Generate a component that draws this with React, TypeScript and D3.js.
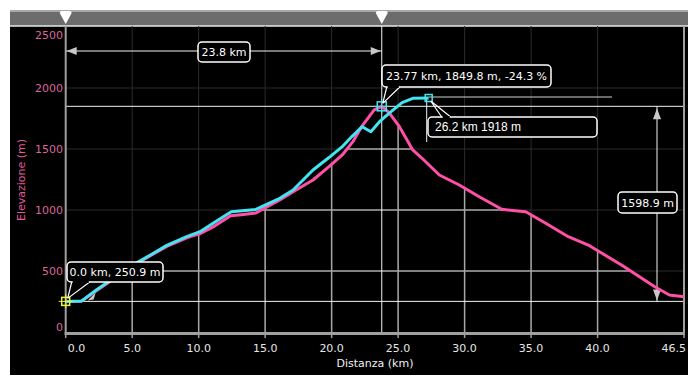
import * as d3 from 'd3';

// Main profile (pink): distance km / elevation m
const profileKm = [0, 1.2, 2.3, 3.6, 5.05, 6.6, 7.6, 9.1, 9.6, 10.1, 11.2, 12.4, 13.2, 14.3, 15.2, 16.1, 17.1, 18.6, 19.8, 20.8, 21.6, 22.3, 23.2, 23.77, 24.3, 25.1, 26.1, 26.8, 28.1, 29.6, 31.1, 32.8, 33.8, 34.6, 36.1, 37.8, 39.3, 41.8, 44.3, 45.4, 46.5];
const profileElev = [251, 253, 338, 434, 543, 640, 702, 772, 790, 805, 868, 952, 962, 975, 1030, 1082, 1150, 1246, 1355, 1451, 1560, 1690, 1820, 1850, 1800, 1683, 1492, 1424, 1287, 1205, 1109, 1006, 994, 986, 891, 781, 713, 549, 371, 303, 289];

// Compared track (cyan)
const trackKm = [0, 1.2, 2.3, 3.6, 5.05, 6.6, 7.6, 9.1, 10.1, 11.2, 12.45, 14.3, 15.2, 16.1, 17.1, 18.6, 19.8, 20.8, 21.5, 22.3, 22.95, 23.6, 24.4, 25.3, 26.1, 27.3];
const trackElev = [251, 255, 344, 440, 548, 646, 710, 781, 822, 900, 986, 1005, 1050, 1096, 1164, 1328, 1430, 1519, 1600, 1683, 1642, 1724, 1800, 1880, 1915, 1918];

const xTicks = [0, 5, 10, 15, 20, 25, 30, 35, 40, 46.5];
const yTicks = [0, 500, 1000, 1500, 2000, 2500];

const startPoint = { km: 0, elev: 250.9 };
const cursorPoint = { km: 23.77, elev: 1849.8, grade: -24.3 };
const trackEnd = { km: 27.3, elev: 1918, labelKm: 26.2 };
const spanKm = 23.8;

const FONT = 'DejaVu Sans, Verdana, sans-serif';
const PINK = '#ff4fa6';
const CYAN = '#45e4f2';

const W = 698;
const H = 385;

export default function App() {
  const x = d3.scaleLinear().domain([0, 46.5]).range([65.7, 684]);
  const y = d3.scaleLinear().domain([0, 2500]).range([332, 27]);
  const top = 26;

  const profile = profileKm.map((k, i) => [k, profileElev[i]] as [number, number]);
  const track = trackKm.map((k, i) => [k, trackElev[i]] as [number, number]);

  const line = d3.line<[number, number]>().x(d => x(d[0])).y(d => y(d[1]));
  const area = d3.area<[number, number]>().x(d => x(d[0])).y0(y(0)).y1(d => y(d[1]));

  const cx = x(cursorPoint.km);
  const cy = y(cursorPoint.elev);
  const sx = x(startPoint.km);
  const sy = y(startPoint.elev);
  const ex = x(trackEnd.km);
  const ey = y(trackEnd.elev);
  const arrowY = 51;
  const vx = 657;

  const gridX = xTicks.slice(1, -1);
  const gridY = yTicks.slice(1, -1);

  const box = (bx: number, by: number, bw: number, bh: number, text: string, opts: { font?: string; size?: number; anchor?: string } = {}) => (
    <g>
      <rect x={bx} y={by} width={bw} height={bh} rx={4} fill="#000" stroke="#fff" strokeWidth={1.5} />
      <text
        x={opts.anchor === 'start' ? bx + 7 : bx + bw / 2}
        y={by + bh / 2 + 4}
        textAnchor={opts.anchor === 'start' ? 'start' : 'middle'}
        fill="#fff"
        fontFamily={opts.font || FONT}
        fontSize={opts.size || 11}
      >
        {text}
      </text>
    </g>
  );

  const marker = (mx: number, my: number, color: string, s: number, cross: boolean) => (
    <g>
      <rect x={mx - s / 2} y={my - s / 2} width={s} height={s} fill="none" stroke={color} strokeWidth={1.5} />
      {cross && (
        <path d={`M${mx - s / 2 - 3},${my}H${mx + s / 2 + 3}M${mx},${my - s / 2 - 3}V${my + s / 2 + 3}`} stroke={color} strokeWidth={1} />
      )}
    </g>
  );

  return (
    <div style={{ position: 'fixed', left: 0, top: 0 }}>
      <svg width={W} height={H} style={{ display: 'block', background: '#fff' }}>
        <defs>
          <clipPath id="under">
            <path d={area(profile) || ''} />
          </clipPath>
        </defs>
        <rect x={10} y={10} width={678} height={365} fill="#000" />

        {/* top bar */}
        <rect x={10} y={10} width={678} height={16} fill="#6c6c6c" />
        <rect x={10} y={10} width={678} height={2} fill="#a8a8a8" />
        <line x1={10} x2={688} y1={top} y2={top} stroke="#e8e8e8" strokeWidth={1.5} />
        {[startPoint.km, cursorPoint.km].map(k => (
          <path key={k} d={`M${x(k) - 6},13Q${x(k) - 6},11 ${x(k) - 4},11H${x(k) + 4}Q${x(k) + 6},11 ${x(k) + 6},13L${x(k)},24Z`} fill="#fff" />
        ))}

        {/* dim grid */}
        <g stroke="#2b2b2b" strokeWidth={1}>
          {gridX.map(t => <line key={'dx' + t} x1={x(t)} x2={x(t)} y1={top} y2={y(0)} />)}
          {gridY.map(t => <line key={'dy' + t} x1={x(0)} x2={x(46.5)} y1={y(t)} y2={y(t)} />)}
        </g>
        {/* bright grid under profile */}
        <g stroke="#a6a6a6" strokeWidth={1.5} clipPath="url(#under)">
          {gridX.map(t => <line key={'bx' + t} x1={x(t)} x2={x(t)} y1={top} y2={y(0)} />)}
          {gridY.map(t => <line key={'by' + t} x1={x(0)} x2={x(46.5)} y1={y(t)} y2={y(t)} />)}
        </g>

        {/* reference lines */}
        <g stroke="#f2f2f2" strokeWidth={1}>
          <line x1={x(0)} x2={x(46.5)} y1={cy} y2={cy} />
          <line x1={x(0)} x2={x(46.5)} y1={sy} y2={sy} />
          <line x1={cx} x2={cx} y1={top} y2={y(0)} />
          <line x1={ex} x2={612} y1={ey - 1} y2={ey - 1} stroke="#cfcfcf" />
          <line x1={ex - 2} x2={ex - 2} y1={ey} y2={142} />
          <line x1={x(0)} x2={cx} y1={arrowY} y2={arrowY} />
          <line x1={vx} x2={vx} y1={cy} y2={sy} />
        </g>
        {/* arrow heads */}
        <g fill="#c8c8c8">
          <path d={`M${x(0) + 1},${arrowY}L${x(0) + 11},${arrowY - 4}L${x(0) + 11},${arrowY + 4}Z`} />
          <path d={`M${cx - 1},${arrowY}L${cx - 11},${arrowY - 4}L${cx - 11},${arrowY + 4}Z`} />
          <path d={`M${vx},${cy + 2}L${vx - 4},${cy + 13}L${vx + 4},${cy + 13}Z`} />
          <path d={`M${vx},${sy - 1}L${vx - 4},${sy - 12}L${vx + 4},${sy - 12}Z`} />
          <path d={`M${sx + 22},${sy - 1}L${sx + 30},${sy - 9}L${sx + 28},${sy - 2}Z`} />
        </g>

        {/* axes */}
        <line x1={x(0)} x2={x(0)} y1={top} y2={y(0) + 3} stroke="#a0a0a0" strokeWidth={2} />
        <line x1={x(46.5)} x2={x(46.5)} y1={top} y2={y(0) + 3} stroke="#a0a0a0" strokeWidth={2} />
        <line x1={x(0) - 1} x2={x(46.5) + 1} y1={y(0) + 1.5} y2={y(0) + 1.5} stroke="#a0a0a0" strokeWidth={3} />
        {xTicks.map(t => (
          <line key={'t' + t} x1={x(t)} x2={x(t)} y1={y(0)} y2={y(0) + 6} stroke="#a0a0a0" strokeWidth={1.5} />
        ))}
        {xTicks.map((t, i) => (
          <text
            key={'xl' + t}
            x={i === 0 ? x(t) + 2 : i === xTicks.length - 1 ? x(t) + 2 : x(t)}
            y={352}
            textAnchor={i === 0 ? 'start' : i === xTicks.length - 1 ? 'end' : 'middle'}
            fill="#e6e6e6"
            fontFamily={FONT}
            fontSize={11}
          >
            {d3.format('.1f')(t)}
          </text>
        ))}
        <text x={375} y={367} textAnchor="middle" fill="#f0f0f0" fontFamily={FONT} fontSize={11}>Distanza (km)</text>
        {yTicks.map(t => (
          <text
            key={'yl' + t}
            x={63}
            y={Math.min(Math.max(y(t) + 4, 39), 331)}
            textAnchor="end"
            fill="#d9659e"
            fontFamily={FONT}
            fontSize={11}
          >
            {t}
          </text>
        ))}
        <text transform="translate(25,180) rotate(-90)" textAnchor="middle" fill="#e05a9c" fontFamily={FONT} fontSize={11}>Elevazione (m)</text>

        {/* series */}
        <path d={line(profile) || ''} fill="none" stroke={PINK} strokeWidth={3} strokeLinejoin="round" />
        <path d={line(track) || ''} fill="none" stroke={CYAN} strokeWidth={3} strokeLinejoin="round" />

        {/* markers */}
        {marker(sx, sy, '#f0f040', 8, true)}
        {marker(cx, cy, CYAN, 9, true)}
        {marker(ex, ey, CYAN, 7, false)}

        {/* callouts */}
        {box(198, 42, 52, 20, `${spanKm.toFixed(1)} km`)}
        {box(618, 192, 59, 21, `${(cursorPoint.elev - startPoint.elev).toFixed(1)} m`)}

        {box(382, 65, 169, 22, `${cursorPoint.km.toFixed(2)} km, ${cursorPoint.elev.toFixed(1)} m, ${cursorPoint.grade.toFixed(1)} %`)}
        <path d={`M${cx + 1},${cy - 3}L${cx + 5},87M${cx + 1},${cy - 3}L${cx + 18},87`} stroke="#fff" strokeWidth={1.2} fill="none" />
        <line x1={cx + 6} x2={cx + 17} y1={87} y2={87} stroke="#000" strokeWidth={2} />

        {box(67, 262, 96, 20, `${startPoint.km.toFixed(1)} km, ${startPoint.elev.toFixed(1)} m`)}
        <path d={`M${sx + 2},${sy - 3}L${sx + 6},282M${sx + 2},${sy - 3}L${sx + 24},282`} stroke="#fff" strokeWidth={1.2} fill="none" />
        <line x1={sx + 7} x2={sx + 23} y1={282} y2={282} stroke="#000" strokeWidth={2} />

        {box(428, 117, 169, 20, `${trackEnd.labelKm} km ${trackEnd.elev} m`, { font: 'Liberation Sans, Arial, sans-serif', size: 12, anchor: 'start' })}
        <path d={`M${ex + 2},${ey + 3}L${ex + 13},117M${ex + 2},${ey + 3}L${ex + 22},117`} stroke="#fff" strokeWidth={1.2} fill="none" />
        <line x1={ex + 14} x2={ex + 21} y1={117} y2={117} stroke="#000" strokeWidth={2} />
      </svg>
    </div>
  );
}
